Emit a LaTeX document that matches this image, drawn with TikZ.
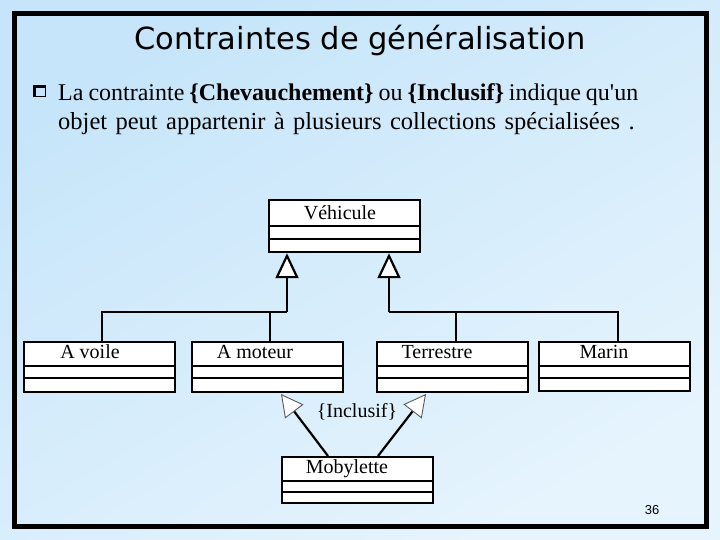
\documentclass[tikz,border=0pt]{standalone}
\usepackage{fontspec}
\setmainfont{Liberation Serif}
\setsansfont{Liberation Sans}
\newfontfamily\titlefont{DejaVu Sans}
\usetikzlibrary{arrows.meta,positioning,calc}
\definecolor{bgtop}{RGB}{198,229,250}
\definecolor{bgbot}{RGB}{230,244,253}
\newcommand\tightspace{\spaceskip=5pt plus 1pt\relax}
\newcommand\widespace{\spaceskip=8.4pt plus 1pt\relax}
\tikzset{
  frame/.style={line width=5pt,draw=black},
  classbox/.style={draw=black,fill=white,line width=2.2pt,minimum width=151pt,inner sep=0pt,anchor=north west},
  compline/.style={line width=2.2pt},
  classname/.style={font=\fontsize{20}{22}\selectfont,inner sep=0pt,anchor=base},
  genline/.style={line width=2.2pt},
  genarrow/.style={-{Triangle[length=25pt,width=23pt,fill=white]},line width=2.2pt},
  inclarrow/.style={-{Triangle[length=22pt,width=23pt,color=gray!70!black,fill=white,line width'=0.9pt]},line width=2.2pt}
}

\begin{document}
\begin{tikzpicture}[
  x=1pt,y=-1pt,
  bodytext/.style={inner sep=0pt,anchor=base west}
]
\useasboundingbox (0,0) rectangle (720,540);
\shade[top color=bgtop,bottom color=bgbot,shading angle=30] (0,0) rectangle (720,540);

\draw[frame] (14,14) rectangle (706,526.5);

% title and bullet text
\node[font=\titlefont\fontsize{30.5}{34}\selectfont] (title) at (360,40)
  {Contraintes de généralisation};

\draw[line width=1pt] (33.5,85.5) rectangle (45,97);
\fill (33,85) rectangle (45,88);
\fill (33,85) rectangle (36,97);

\node[bodytext,font=\fontsize{24}{29}\selectfont] (line1) at (58,101)
  {\tightspace La contrainte \textbf{\{Chevauchement\}} ou \textbf{\{Inclusif\}} indique qu\textquotesingle un};
\node[bodytext,font=\fontsize{24.5}{29}\selectfont] (line2) at (58,130)
  {\widespace objet peut appartenir à plusieurs collections spécialisées .};

% classes
\node[classbox,minimum height=52pt] (veh)    at (268,199) {};
\node[classbox,minimum height=50pt] (voile)  at (23,341)  {};
\node[classbox,minimum height=50pt] (moteur) at (191,341) {};
\node[classbox,minimum height=50pt] (terr)   at (376,341) {};
\node[classbox,minimum height=49pt] (marin)  at (538,341) {};
\node[classbox,minimum height=46pt] (moby)   at (281,456) {};

\foreach \c/\a/\b in {veh/27/40,voile/25/37,moteur/25/37,terr/25/37,marin/25/37,moby/25/36}{
  \draw[compline] ([yshift=-\a pt]\c.north west) -- ([yshift=-\a pt]\c.north east);
  \draw[compline] ([yshift=-\b pt]\c.north west) -- ([yshift=-\b pt]\c.north east);
}

\foreach \c/\x/\y/\lab in {veh/340/219/Véhicule,voile/90/358/A voile,moteur/255/358/A moteur,
    terr/437/358/Terrestre,marin/604/358/Marin,moby/347/473/Mobylette}{
  \node[classname] (\c lab) at (\x,\y) {\lab};
}

% generalisation
\coordinate (lj) at (287,312);
\coordinate (rj) at (389,312);

\draw[genline] (voile.north) ++(2,0) |- (lj);
\draw[genline] (moteur.north) ++(2,0) |- (lj);
\draw[genarrow] (lj) -- (lj |- veh.south);

\draw[genline] (terr.north) ++(3,0) |- (rj);
\draw[genline] (marin.north) ++(3,0) |- (rj);
\draw[genarrow] (rj) -- (rj |- veh.south);

% inclusif
\coordinate (tipA) at (281,394);
\coordinate (tipB) at (426,394);

\draw[inclarrow] (moby.north west) ++(47,0) -- (tipA);
\draw[inclarrow] (moby.north west) ++(97,0) -- (tipB);

\node[classname] (incl) at (357,417) {\{Inclusif\}};

\node[font=\sffamily\fontsize{13}{14}\selectfont] (pagenum) at (652,510) {36};

\end{tikzpicture}
\end{document}
